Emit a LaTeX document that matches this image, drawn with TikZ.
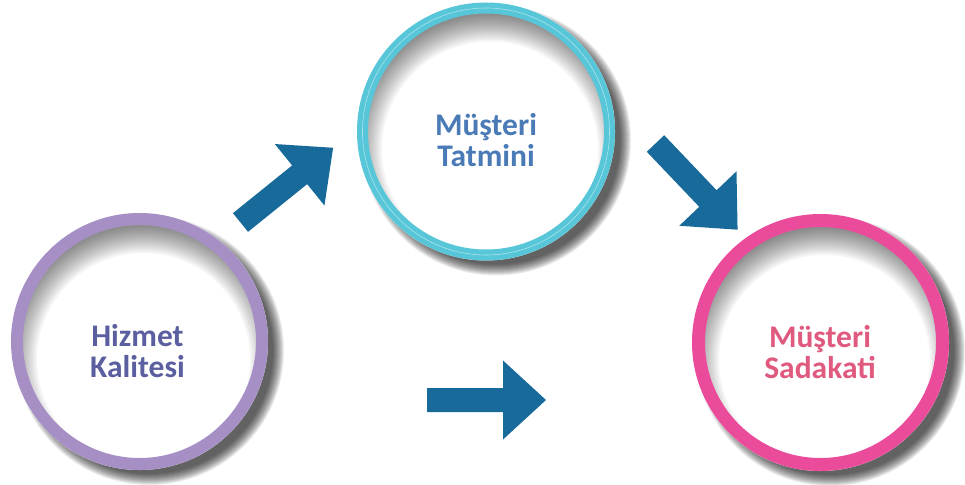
\documentclass[tikz,border=0pt]{standalone}
\usepackage{fontspec}
\setmainfont{Carlito}
\usetikzlibrary{calc}
\definecolor{arrowblue}{HTML}{176A9A}
\definecolor{ringpurple}{HTML}{A68FC5}
\definecolor{ringcyan}{HTML}{56C6D8}
\definecolor{ringpink}{HTML}{EB4B9B}
\definecolor{txtpurple}{HTML}{5B5FA0}
\definecolor{txtblue}{HTML}{4A7BB7}
\definecolor{txtpink}{HTML}{E0597E}
\newcommand\ringcircle[6]{%
  \coordinate (#6) at (#1,#2);
  \foreach \k in {0,...,11} \fill[black, opacity=0.075] ($(#6)+(10,9)$) circle ({#3+6-\k});
  \fill[white] (#6) circle (#3);
  \begin{scope}
    \clip (#6) circle ({#3-#4+1.5});
    \foreach \k in {1,...,14} \fill[black, opacity=0.04, even odd rule] (#6) circle ({#3-#4+4}) ($(#6)+(4,18)$) circle ({#3-#4-12+2*\k});
  \end{scope}
  \draw[#5, line width=#4] (#6) circle ({#3-#4/2});
}
\tikzset{
  label text/.style={font=\bfseries\fontsize{31.5}{31}\selectfont, align=center, inner sep=0pt},
  blockarrow/.pic={\fill[arrowblue] (0,-12) -- (76,-12) -- (76,-39.5) -- (119,0) -- (76,39.5) -- (76,12) -- (0,12) -- cycle;}
}
\begin{document}
\begin{tikzpicture}[x=1pt,y=-1pt]
\useasboundingbox[fill=white] (0,0) rectangle (965,484);
\ringcircle{139.5}{341.5}{128.5}{12}{ringpurple}{c1}
\ringcircle{486}{131.5}{129}{11}{ringcyan}{c2}
\draw[white, opacity=0.5, line width=0.6] (c2) circle (123.5);
\ringcircle{820.5}{342.5}{128.5}{13}{ringpink}{c3}
\node[label text, text=txtpurple] (t1) at (137.5,351) {Hizmet\\Kalitesi};
\node[label text, text=txtblue] (t2) at (486,140) {Müşteri\\Tatmini};
\node[label text, text=txtpink] (t3) at (820,352) {Müşteri\\Sadakati};
\coordinate (a1) at (240.5,222.5);
\coordinate (a2) at (655.5,143.5);
\coordinate (a3) at (427,400);
\pic[rotate=38.9] at (a1) {blockarrow};
\pic[rotate=-46.4] at (a2) {blockarrow};
\pic at (a3) {blockarrow};
\end{tikzpicture}
\end{document}
